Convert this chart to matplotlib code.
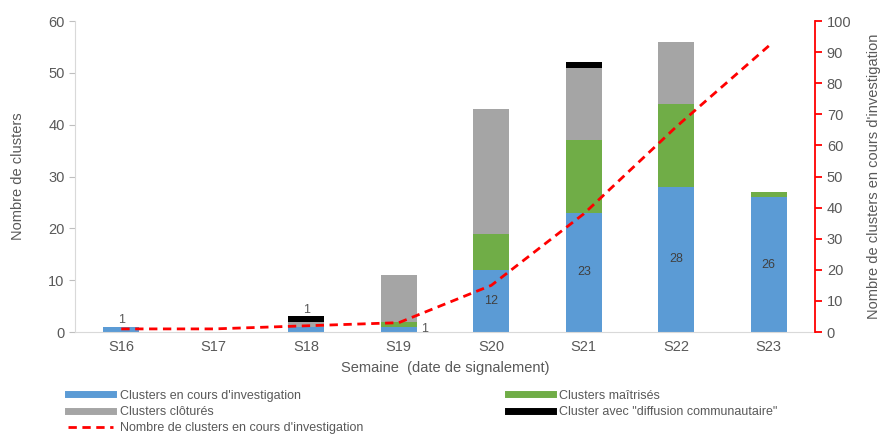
import matplotlib.pyplot as plt
from matplotlib.lines import Line2D
import numpy as np

plt.rcParams['font.family'] = ['Liberation Sans', 'DejaVu Sans']

weeks = ["S16", "S17", "S18", "S19", "S20", "S21", "S22", "S23"]
en_cours = [1, 0, 1, 1, 12, 23, 28, 26]
maitrises = [0, 0, 0, 1, 7, 14, 16, 1]
clotures = [0, 0, 1, 9, 24, 14, 12, 0]
diffusion = [0, 0, 1, 0, 0, 1, 0, 0]
cumul_en_cours = [1, 1, 2, 3, 15, 38, 66, 92]

BLUE = "#5b9bd5"
GREEN = "#70ad47"
GRAY = "#a5a5a5"
BLACK = "#000000"
RED = "#ff0000"
TXT = "#595959"

fig = plt.figure(figsize=(8.89, 4.34), dpi=100)
ax = fig.add_axes([0.0844, 0.235, 0.8324, 0.7166])
x = np.arange(len(weeks))
w = 0.39

b0 = np.zeros(len(weeks))
for vals, col in [(en_cours, BLUE), (maitrises, GREEN), (clotures, GRAY), (diffusion, BLACK)]:
    ax.bar(x, vals, w, bottom=b0, color=col, zorder=2)
    b0 = b0 + np.array(vals)

# data labels
ax.text(0, 1.1, "1", ha="center", va="bottom", fontsize=9, color=TXT)
ax.text(2, 3.1, "1", ha="center", va="bottom", fontsize=9, color=TXT)
ax.text(3 + w / 2 + 0.08, 0.5, "1", ha="center", va="center", fontsize=9, color=TXT)
for i in [4, 5, 6, 7]:
    ax.text(i, en_cours[i] / 2, str(en_cours[i]), ha="center", va="center", fontsize=9, color="#404040")

ax.set_xlim(-0.5, 7.5)
ax.set_ylim(0, 60)
ax.set_yticks(range(0, 61, 10))
ax.set_xticks(x)
ax.set_xticklabels(weeks)
ax.tick_params(axis="y", colors="#bfbfbf", labelcolor=TXT, labelsize=10.5, length=4, direction="out")
ax.tick_params(axis="x", length=0, labelcolor=TXT, labelsize=10.5, pad=6)
for s in ["top", "right"]:
    ax.spines[s].set_visible(False)
ax.spines["left"].set_color("#d9d9d9")
ax.spines["bottom"].set_color("#d9d9d9")
ax.set_ylabel("Nombre de clusters", color=TXT, fontsize=10.5, labelpad=17)
ax.set_xlabel("Semaine  (date de signalement)", color=TXT, fontsize=10.5, labelpad=5)

ax2 = ax.twinx()
ax2.plot(x, cumul_en_cours, color=RED, linestyle=(0, (3, 2)), linewidth=2, zorder=3)
ax2.set_ylim(0, 100)
ax2.set_yticks(range(0, 101, 10))
for s in ["top", "left", "bottom"]:
    ax2.spines[s].set_visible(False)
ax2.spines["right"].set_color(RED)
ax2.spines["right"].set_linewidth(1.3)
ax2.tick_params(axis="y", colors=RED, labelcolor=TXT, labelsize=10.5, length=5, width=1.3, direction="out")
ax2.set_ylabel("Nombre de clusters en cours d'investigation", color=TXT, fontsize=10.5, labelpad=11)

leg_kw = dict(loc="upper left", frameon=False, fontsize=9, handlelength=3.6, handletextpad=0.5,
              labelspacing=0.35, borderaxespad=0, borderpad=0)
left_handles = [
    Line2D([], [], color=BLUE, linewidth=5),
    Line2D([], [], color=GRAY, linewidth=5),
    Line2D([], [], color=RED, linewidth=2, linestyle=(0, (3, 2))),
]
left_labels = [
    "Clusters en cours d'investigation",
    "Clusters clôturés",
    "Nombre de clusters en cours d'investigation",
]
right_handles = [
    Line2D([], [], color=GREEN, linewidth=5),
    Line2D([], [], color=BLACK, linewidth=5),
]
right_labels = [
    "Clusters maîtrisés",
    "Cluster avec \"diffusion communautaire\"",
]
leg1 = fig.legend(left_handles, left_labels, bbox_to_anchor=(0.077, 0.102), **leg_kw)
leg2 = fig.legend(right_handles, right_labels, bbox_to_anchor=(0.571, 0.102), **leg_kw)
for leg in (leg1, leg2):
    for t in leg.get_texts():
        t.set_color(TXT)

fig.savefig("out.png", dpi=100)
